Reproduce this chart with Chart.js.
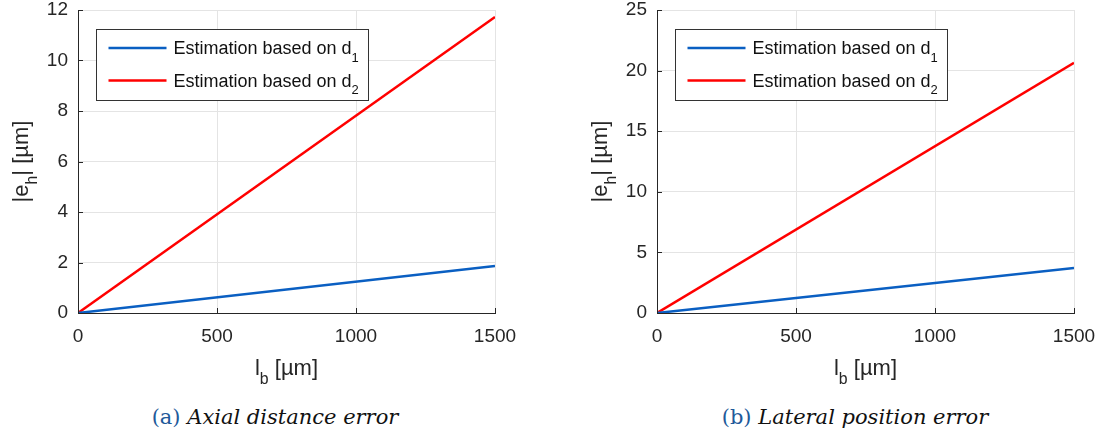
<!DOCTYPE html>
<html>
<head>
<meta charset="utf-8">
<script src="https://cdn.jsdelivr.net/npm/chart.js@4"></script>
<style>
  html, body { margin: 0; padding: 0; background: #fff; overflow: hidden; }
  body { width: 1105px; height: 439px; position: relative; }
  .panel { position: absolute; top: 0; width: 530px; height: 395px; }
  .caption {
    position: absolute; top: 405px; width: 560px; text-align: center;
    font-family: "DejaVu Serif", serif; font-size: 21px; color: #111;
  }
  .caption .tag { color: #1f5a9a; }
  .caption i { font-style: italic; }
</style>
</head>
<body>
<div class="panel" style="left:0"><canvas id="axial"></canvas></div>
<div class="panel" style="left:579px"><canvas id="lateral"></canvas></div>
<div class="caption" style="left:-5px"><span class="tag">(a)</span> <i>Axial distance error</i></div>
<div class="caption" style="left:575px"><span class="tag">(b)</span> <i>Lateral position error</i></div>
<script>
// l_b in µm
const lb = [0, 1500];
// |e_h| in µm, axial distance
const axialD1 = [0, 1.86];
const axialD2 = [0, 11.72];
// |e_h| in µm, lateral position
const lateralD1 = [0, 3.71];
const lateralD2 = [0, 20.65];

const xTicks = [0, 500, 1000, 1500];
const axialTicks = [0, 2, 4, 6, 8, 10, 12];
const lateralTicks = [0, 5, 10, 15, 20, 25];

const seriesNames = ['Estimation based on d', 'Estimation based on d'];
const seriesSubs = ['1', '2'];
const colors = ['#0a5fc2', '#ff0000'];

const FONT = '"Liberation Sans", Arial, sans-serif';
const INK = '#262626';

// text followed by a lowered subscript, then more text
function subParts(ctx, parts, size) {
  let w = 0;
  for (const p of parts) {
    ctx.font = (p.sub ? size * 0.72 : size) + 'px ' + FONT;
    w += ctx.measureText(p.t).width;
  }
  return w;
}
function drawParts(ctx, parts, x, y, size) {
  for (const p of parts) {
    const s = p.sub ? size * 0.72 : size;
    ctx.font = s + 'px ' + FONT;
    ctx.fillText(p.t, x, p.sub ? y + size * 0.42 : y);
    x += ctx.measureText(p.t).width;
  }
}

const decor = {
  id: 'decor',
  afterDraw(chart) {
    const ctx = chart.ctx;
    const a = chart.chartArea;
    const xs = chart.scales.x, ys = chart.scales.y;
    ctx.save();
    ctx.fillStyle = INK;
    ctx.textBaseline = 'alphabetic';

    // short inward tick marks
    ctx.strokeStyle = INK;
    ctx.lineWidth = 1;
    ctx.beginPath();
    xs.ticks.forEach(t => {
      const px = Math.round(xs.getPixelForValue(t.value)) + 0.5;
      ctx.moveTo(px, a.bottom); ctx.lineTo(px, a.bottom - 5);
    });
    ys.ticks.forEach(t => {
      const py = Math.round(ys.getPixelForValue(t.value)) + 0.5;
      ctx.moveTo(a.left, py); ctx.lineTo(a.left + 5, py);
    });
    ctx.stroke();

    // x title
    const xt = [{t: 'l'}, {t: 'b', sub: true}, {t: ' [µm]'}];
    const xw = subParts(ctx, xt, 22);
    drawParts(ctx, xt, (a.left + a.right) / 2 - xw / 2, a.bottom + 62, 22);

    // y title
    const yt = [{t: '|e'}, {t: 'h', sub: true}, {t: '| [µm]'}];
    const yw = subParts(ctx, yt, 22);
    ctx.save();
    ctx.translate(a.left - 50, (a.top + a.bottom) / 2);
    ctx.rotate(-Math.PI / 2);
    drawParts(ctx, yt, -yw / 2, 0, 22);
    ctx.restore();

    // legend box
    const bx = a.left + 18.5, by = a.top + 19.5, bw = 272, bh = 71;
    ctx.fillStyle = '#fff';
    ctx.fillRect(bx, by, bw, bh);
    ctx.strokeStyle = '#333';
    ctx.lineWidth = 1;
    ctx.strokeRect(bx, by, bw, bh);
    chart.data.datasets.forEach((ds, i) => {
      const ly = by + 18.5 + i * 32.5;
      ctx.strokeStyle = ds.borderColor;
      ctx.lineWidth = 2.5;
      ctx.beginPath();
      ctx.moveTo(bx + 12, ly); ctx.lineTo(bx + 70, ly);
      ctx.stroke();
      ctx.fillStyle = '#111';
      drawParts(ctx, [{t: seriesNames[i]}, {t: seriesSubs[i], sub: true}], bx + 77, ly + 6, 18);
    });
    ctx.restore();
  }
};

function makeChart(id, d1, d2, yTicks) {
  const yMax = yTicks[yTicks.length - 1];
  const step = yTicks[1] - yTicks[0];
  return new Chart(document.getElementById(id), {
    type: 'line',
    data: {
      datasets: [d1, d2].map((vals, i) => ({
        label: seriesNames[i] + seriesSubs[i],
        data: lb.map((x, k) => ({x: x, y: vals[k]})),
        borderColor: colors[i],
        borderWidth: 2.5,
        pointRadius: 0,
        fill: false,
        tension: 0
      }))
    },
    options: {
      responsive: false,
      animation: false,
      devicePixelRatio: 1,
      layout: {padding: {left: 0, top: 10, right: 35, bottom: 0}},
      plugins: {legend: {display: false}, tooltip: {enabled: false}},
      scales: {
        x: {
          type: 'linear', min: 0, max: 1500,
          afterBuildTicks: s => { s.ticks = xTicks.map(v => ({value: v})); },
          afterFit: s => { s.height = 82; s.paddingLeft = 0; s.paddingRight = 0; },
          grid: {color: '#e4e4e4', drawTicks: false},
          border: {color: INK, width: 1},
          ticks: {
            padding: 12, color: INK, font: {family: FONT, size: 19}, maxRotation: 0,
            callback: v => String(v)
          }
        },
        y: {
          min: 0, max: yMax,
          ticks: {
            stepSize: step, padding: 10, color: INK, font: {family: FONT, size: 19},
            callback: v => String(v)
          },
          afterFit: s => { s.width = 78; s.paddingTop = 0; s.paddingBottom = 0; },
          grid: {color: '#e4e4e4', drawTicks: false},
          border: {color: INK, width: 1}
        }
      }
    },
    plugins: [decor]
  });
}

for (const id of ['axial', 'lateral']) {
  const c = document.getElementById(id);
  c.width = 530; c.height = 395;
}
makeChart('axial', axialD1, axialD2, axialTicks);
makeChart('lateral', lateralD1, lateralD2, lateralTicks);
</script>
</body>
</html>
